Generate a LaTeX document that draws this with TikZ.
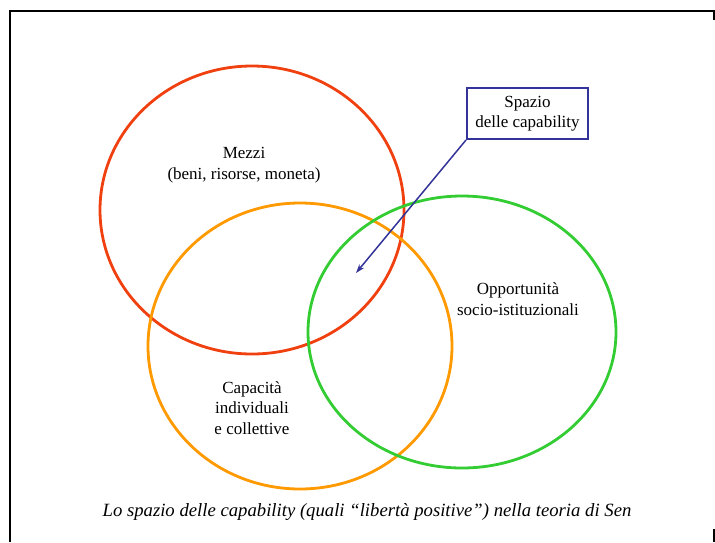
\documentclass[tikz,border=0pt]{standalone}
\usepackage{fontspec}
\setmainfont{Liberation Serif}
\usetikzlibrary{arrows.meta}
\definecolor{cred}{RGB}{240,64,16}
\definecolor{corange}{RGB}{255,153,0}
\definecolor{cgreen}{RGB}{51,204,51}
\definecolor{cblue}{RGB}{51,51,153}
\begin{document}
\begin{tikzpicture}[x=1pt,y=-1pt,
  ring/.style={line width=2.8pt},
  lbl/.style={align=center,font=\fontsize{17}{20.5}\selectfont,inner sep=0pt},
  frameline/.style={line width=2.2pt,black}]
\useasboundingbox (0,0) rectangle (715,542);
% frame
\draw[frameline] (10,542) -- (10,11) -- (714,11) -- (714,20);
\draw[frameline] (714,529) -- (714,542);
% ellipses
\draw[ring,cred] (252,210) ellipse [x radius=152, y radius=144];
\draw[ring,corange] (300,346) ellipse [x radius=152, y radius=143];
\draw[ring,cgreen] (462,332) ellipse [x radius=154, y radius=136];
% labels
\node[lbl] (mezzi) at (244,165) {Mezzi\\(beni, risorse, moneta)};
\node[lbl] (opp) at (518,299) {Opportunità\\socio-istituzionali};
\node[lbl] (cap) at (252,408) {Capacità\\individuali\\e collettive};
\node[lbl,draw=cblue,line width=2pt,minimum width=121pt,minimum height=51pt] (box) at (527.5,113.5) {Spazio\\delle capability};
\coordinate (tip) at (356,273);
\draw[cblue,line width=1.5pt,-{Stealth[length=9pt,width=6pt]}] (box.south west) -- (tip);
\node[font=\fontsize{18.7}{22}\selectfont\itshape,inner sep=0pt] (caption) at (367,512) {Lo spazio delle capability (quali “libertà positive”) nella teoria di Sen};
\end{tikzpicture}
\end{document}
